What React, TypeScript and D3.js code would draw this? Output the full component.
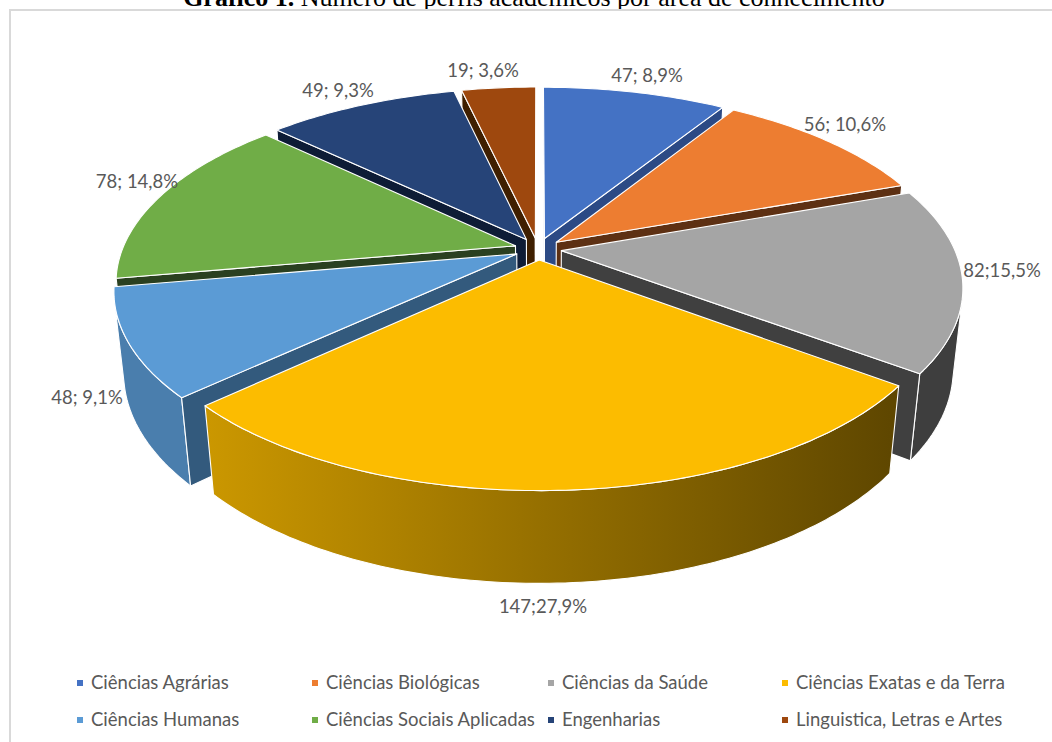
import * as d3 from 'd3';

const categories = [
  'Ciências Agrárias',
  'Ciências Biológicas',
  'Ciências da Saúde',
  'Ciências Exatas e da Terra',
  'Ciências Humanas',
  'Ciências Sociais Aplicadas',
  'Engenharias',
  'Linguistica, Letras e Artes',
];
const values = [47, 56, 82, 147, 48, 78, 49, 19];
const valueLabels = ['47; 8,9%', '56; 10,6%', '82;15,5%', '147;27,9%', '48; 9,1%', '78; 14,8%', '49; 9,3%', '19; 3,6%'];
const colors = ['#4472c4', '#ed7d31', '#a5a5a5', '#fcbc00', '#5b9bd5', '#70ad47', '#264478', '#9e480e'];
const wallColors = ['#2c4a85', '#5d3013', '#404040', '#5f4900', '#335a7d', '#2a4020', '#0e1c36', '#3f1f00'];

// label centres, picked by hand like the original chart
const labelPos: [number, number][] = [[647, 76], [845, 125], [1002, 271], [543, 607], [87, 398], [137, 182], [338, 91], [483, 71]];
const legendX = [91, 326, 562, 796];
const legendY = [683, 720];

const WIDTH = 1052;
const HEIGHT = 742;

// perspective of the pie plane
const cx = 538;
const cy = 249;
const A = 393;
const B = 183;
const D = 82;
const k = 0.186;
const m = 0.0225;
const explode = 0.06;

type Pt = [number, number];

const project = (u: number, v: number, z: number): Pt => {
  const w = 1 - k * v + m * z;
  return [cx + (A * u) / w, cy + (B * v + D * z) / w];
};

// d3.polygonArea is positive for quads running clockwise on screen
const area = (p: Pt[]) => d3.polygonArea(p);
const line = d3.line<Pt>();
const closed = (p: Pt[]) => line(p) + 'Z';

const shade = d3.scaleLinear().domain([200, 890]).range([0.81, 0.375]).clamp(true);

const arcs = d3.pie<number>().sort(null)(values);

const slices = arcs
  .map((a, i) => {
    const mid = (a.startAngle + a.endAngle) / 2;
    const ox = explode * Math.sin(mid);
    const oy = -explode * Math.cos(mid);
    const at = (r: number, t: number, z: number) => project(r * Math.sin(t) + ox, -r * Math.cos(t) + oy, z);

    const steps = Math.max(12, Math.ceil((a.endAngle - a.startAngle) * 60));
    const angles = d3.range(steps + 1).map((j) => a.startAngle + ((a.endAngle - a.startAngle) * j) / steps);

    const apexTop = at(0, 0, 0);
    const apexBot = at(0, 0, 1);
    const top = [apexTop, ...angles.map((t) => at(1, t, 0))];

    const startWall = [apexTop, at(1, a.startAngle, 0), at(1, a.startAngle, 1), apexBot];
    const endWall = [apexTop, at(1, a.endAngle, 0), at(1, a.endAngle, 1), apexBot];

    // keep only the part of the rim that faces the viewer
    const seen = angles.slice(0, -1).map((t, j) => {
      const q = [at(1, t, 0), at(1, angles[j + 1], 0), at(1, angles[j + 1], 1), at(1, t, 1)];
      return area(q) > 0;
    });
    const first = seen.indexOf(true);
    const last = seen.lastIndexOf(true);
    let rim: Pt[] | null = null;
    if (first >= 0) {
      const visible = angles.slice(first, last + 2);
      rim = [...visible.map((t) => at(1, t, 0)), ...visible.slice().reverse().map((t) => at(1, t, 1))];
    }

    return {
      i,
      order: -Math.cos(mid),
      top,
      rim,
      startWall: area(startWall) > 0 ? startWall : null,
      endWall: area(endWall) < 0 ? endWall : null,
    };
  })
  .sort((a, b) => a.order - b.order);

const labelFont = 'Lato, "Noto Sans", sans-serif';

export default function App() {
  return (
    <div style={{ position: 'absolute', left: 0, top: 0 }}>
      <svg width={WIDTH} height={HEIGHT} style={{ display: 'block', background: '#fff' }}>
        <defs>
          {colors.map((c, i) => (
            <linearGradient key={i} id={`rim${i}`} gradientUnits="userSpaceOnUse" x1={200} x2={890} y1={0} y2={0}>
              {d3.range(5).map((s) => {
                const x = 200 + (690 * s) / 4;
                return <stop key={s} offset={s / 4} stopColor={d3.interpolateRgb('#000', c)(shade(x))} />;
              })}
            </linearGradient>
          ))}
        </defs>

        <text x={534} y={6} textAnchor="middle" fontFamily='"Liberation Serif", serif' fontSize={26} fill="#000">
          <tspan fontWeight="bold">Gráfico 1.</tspan> Número de perfis acadêmicos por área de conhecimento
        </text>

        <path d="M10,742V10H1052" fill="none" stroke="#d9d9d9" strokeWidth={2} />

        {slices.map((s) => (
          <g key={s.i} stroke="#fff" strokeWidth={1.1} strokeLinejoin="round">
            {s.rim && <path d={closed(s.rim)} fill={`url(#rim${s.i})`} />}
            {s.startWall && <path d={closed(s.startWall)} fill={wallColors[s.i]} />}
            {s.endWall && <path d={closed(s.endWall)} fill={wallColors[s.i]} />}
            <path d={closed(s.top)} fill={colors[s.i]} />
          </g>
        ))}

        {valueLabels.map((t, i) => (
          <text
            key={t}
            x={labelPos[i][0]}
            y={labelPos[i][1]}
            dy="0.35em"
            textAnchor="middle"
            fontFamily={labelFont}
            fontSize={18.5}
            fill="#595959"
          >
            {t}
          </text>
        ))}

        {categories.map((c, i) => {
          const x = legendX[i % 4];
          const y = legendY[Math.floor(i / 4)];
          return (
            <g key={c}>
              <rect x={x - 14} y={y - 3} width={6} height={6} fill={colors[i]} />
              <text x={x} y={y} dy="0.35em" fontFamily={labelFont} fontSize={18.5} fill="#595959">
                {c}
              </text>
            </g>
          );
        })}
      </svg>
    </div>
  );
}
